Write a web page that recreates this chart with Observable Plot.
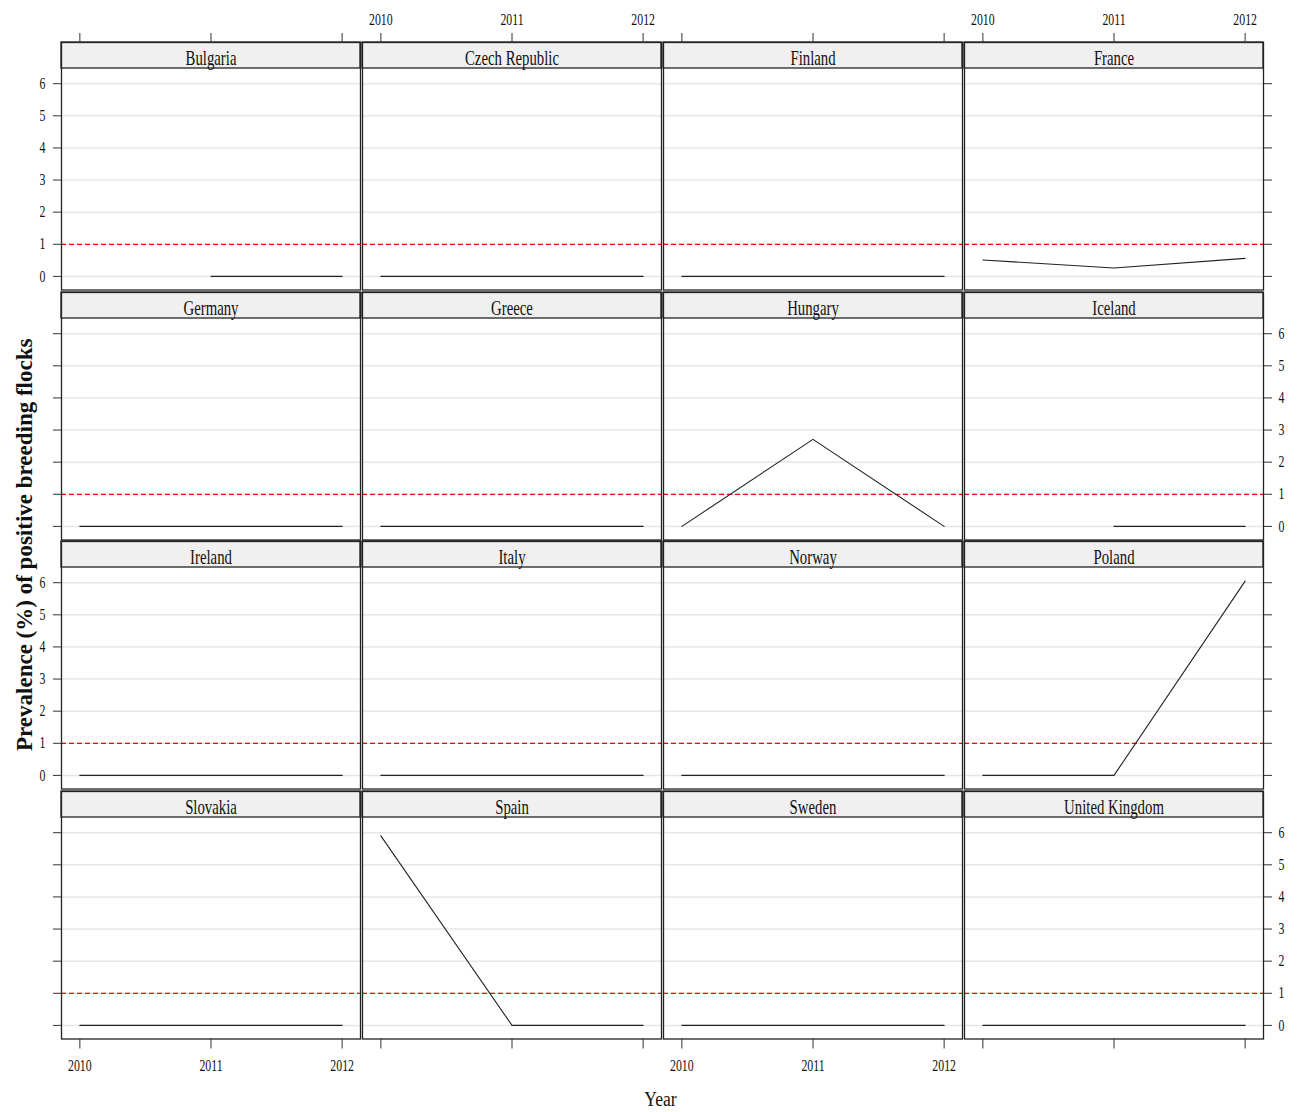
<!DOCTYPE html>
<html>
<head>
<meta charset="utf-8">
<script src="https://cdn.jsdelivr.net/npm/d3@7"></script>
<script src="https://cdn.jsdelivr.net/npm/@observablehq/plot@0.6"></script>
<style>
  html, body { margin: 0; padding: 0; background: #fff; }
  #chart { position: relative; width: 1297px; height: 1112px; background: #fff; overflow: hidden; }
  #chart svg { position: absolute; background: transparent; overflow: visible; }
  .ylab { position: absolute; font-family: "Liberation Serif", serif; font-weight: bold; font-size: 23px; color: #111;
          white-space: nowrap; transform-origin: 0 0; }
  .xlab { position: absolute; font-family: "Liberation Serif", serif; font-size: 20px; color: #111; white-space: nowrap; }
</style>
</head>
<body>
<div id="chart"></div>
<script>
// ---- data ----
const countries = ["Bulgaria", "Czech Republic", "Finland", "France",
                   "Germany", "Greece", "Hungary", "Iceland",
                   "Ireland", "Italy", "Norway", "Poland",
                   "Slovakia", "Spain", "Sweden", "United Kingdom"];
const years = [2010, 2011, 2012];
// prevalence (%) per country, one array per year (null = no data)
const prev2010 = [null, 0, 0, 0.51, 0, 0, 0, null, 0, 0, 0, 0, 0, 5.9, 0, 0];
const prev2011 = [0, 0, 0, 0.26, 0, 0, 2.71, 0, 0, 0, 0, 0, 0, 0, 0, 0];
const prev2012 = [0, 0, 0, 0.56, 0, 0, 0, 0, 0, 0, 0, 6.05, 0, 0, 0, 0];
const yTicks = [0, 1, 2, 3, 4, 5, 6];
const threshold = [1];
const yTitle = "Prevalence (%) of positive breeding flocks";
const xTitle = "Year";

// ---- layout ----
const colLeft = [60.5, 361.5, 662.5, 963.5];
const rowTop = [42.3, 291.8, 541.3, 790.8];
const panelW = 299, panelH = 221.5, stripH = 26;
const mL = 60, mR = 50, mT = 45, mB = 75;
const xDom = [2009.86, 2012.14];
const yLo = -0.4235, yHi = 6.4735;
const upp = (yHi - yLo) / panelH;
const yStripTop = yHi + stripH * upp;
const yStripMid = yHi + stripH * upp / 2;

const series = [prev2010, prev2011, prev2012];
const chart = document.getElementById("chart");

// horizontally condense text around its anchor (keeps em-based y offsets)
function condense(svg, s) {
  svg.querySelectorAll("text").forEach(t => {
    const tr = t.getAttribute("transform") || "";
    const x = t.getAttribute("x");
    let extra = "";
    if (x != null && isFinite(+x)) {
      extra = ` translate(${+x},0)`;
      t.removeAttribute("x");
    }
    t.setAttribute("transform", `${tr}${extra} scale(${s},1)`);
  });
}

countries.forEach((name, i) => {
  const r = Math.floor(i / 4), c = i % 4;
  const data = years.map((yr, k) => ({year: yr, value: series[k][i]}));
  const lab = d => String(d), blank = () => "";
  const marks = [
    Plot.rect([name], {x1: xDom[0], x2: xDom[1], y1: yHi, y2: yStripTop, fill: "#f0f0f0", stroke: "#222", strokeWidth: 1.3}),
    Plot.ruleY(yTicks, {stroke: "#e6e6e6", strokeWidth: 1.5}),
    Plot.ruleY(threshold, {stroke: "#ff0000", strokeDasharray: "5,3", strokeWidth: 1.2}),
    Plot.line(data, {x: "year", y: "value", stroke: "#222", strokeWidth: 1.1}),
    Plot.text([name], {x: 2011, y: yStripMid, text: d => d, fontSize: 20, dy: 3, fill: "#111"}),
    Plot.frame({stroke: "#222", strokeWidth: 1.3})
  ];
  if (r === 0) marks.push(Plot.axisX(years, {anchor: "top", tickSize: 10, tickPadding: 8, label: null,
      tickFormat: c % 2 === 1 ? lab : blank, fontSize: 16, stroke: "#333"}));
  if (r === 3) marks.push(Plot.axisX(years, {anchor: "bottom", tickSize: 10, tickPadding: 11, label: null,
      tickFormat: c % 2 === 0 ? lab : blank, fontSize: 16, stroke: "#333"}));
  if (c === 0) marks.push(Plot.axisY(yTicks, {anchor: "left", tickSize: 8, tickPadding: 8, label: null,
      tickFormat: r % 2 === 0 ? lab : blank, fontSize: 16, stroke: "#333"}));
  if (c === 3) marks.push(Plot.axisY(yTicks, {anchor: "right", tickSize: 8, tickPadding: 7, label: null,
      tickFormat: r % 2 === 1 ? lab : blank, fontSize: 16, stroke: "#333"}));
  const svg = Plot.plot({
    width: mL + panelW + mR,
    height: mT + stripH + panelH + mB,
    marginLeft: mL, marginRight: mR, marginTop: mT, marginBottom: mB,
    style: {fontFamily: "Liberation Serif, serif", fontSize: "16px", color: "#111", background: "transparent", overflow: "visible"},
    x: {domain: xDom, range: [mL, mL + panelW], axis: null},
    y: {domain: [yLo, yStripTop], range: [mT + stripH + panelH, mT], axis: null},
    marks
  });
  condense(svg, 0.74);
  svg.style.left = (colLeft[c] - mL) + "px";
  svg.style.top = (rowTop[r] - mT) + "px";
  chart.appendChild(svg);
});

const yl = document.createElement("div");
yl.className = "ylab";
yl.textContent = yTitle;
chart.appendChild(yl);
const w = yl.getBoundingClientRect().width;
yl.style.left = "12px";
yl.style.top = (545 + w / 2) + "px";
yl.style.transform = "rotate(-90deg)";

const xl = document.createElement("div");
xl.className = "xlab";
xl.textContent = xTitle;
chart.appendChild(xl);
const xw = xl.getBoundingClientRect().width;
xl.style.left = (660 - xw / 2) + "px";
xl.style.top = "1088px";
xl.style.transform = "scaleX(0.88)";
</script>
</body>
</html>
